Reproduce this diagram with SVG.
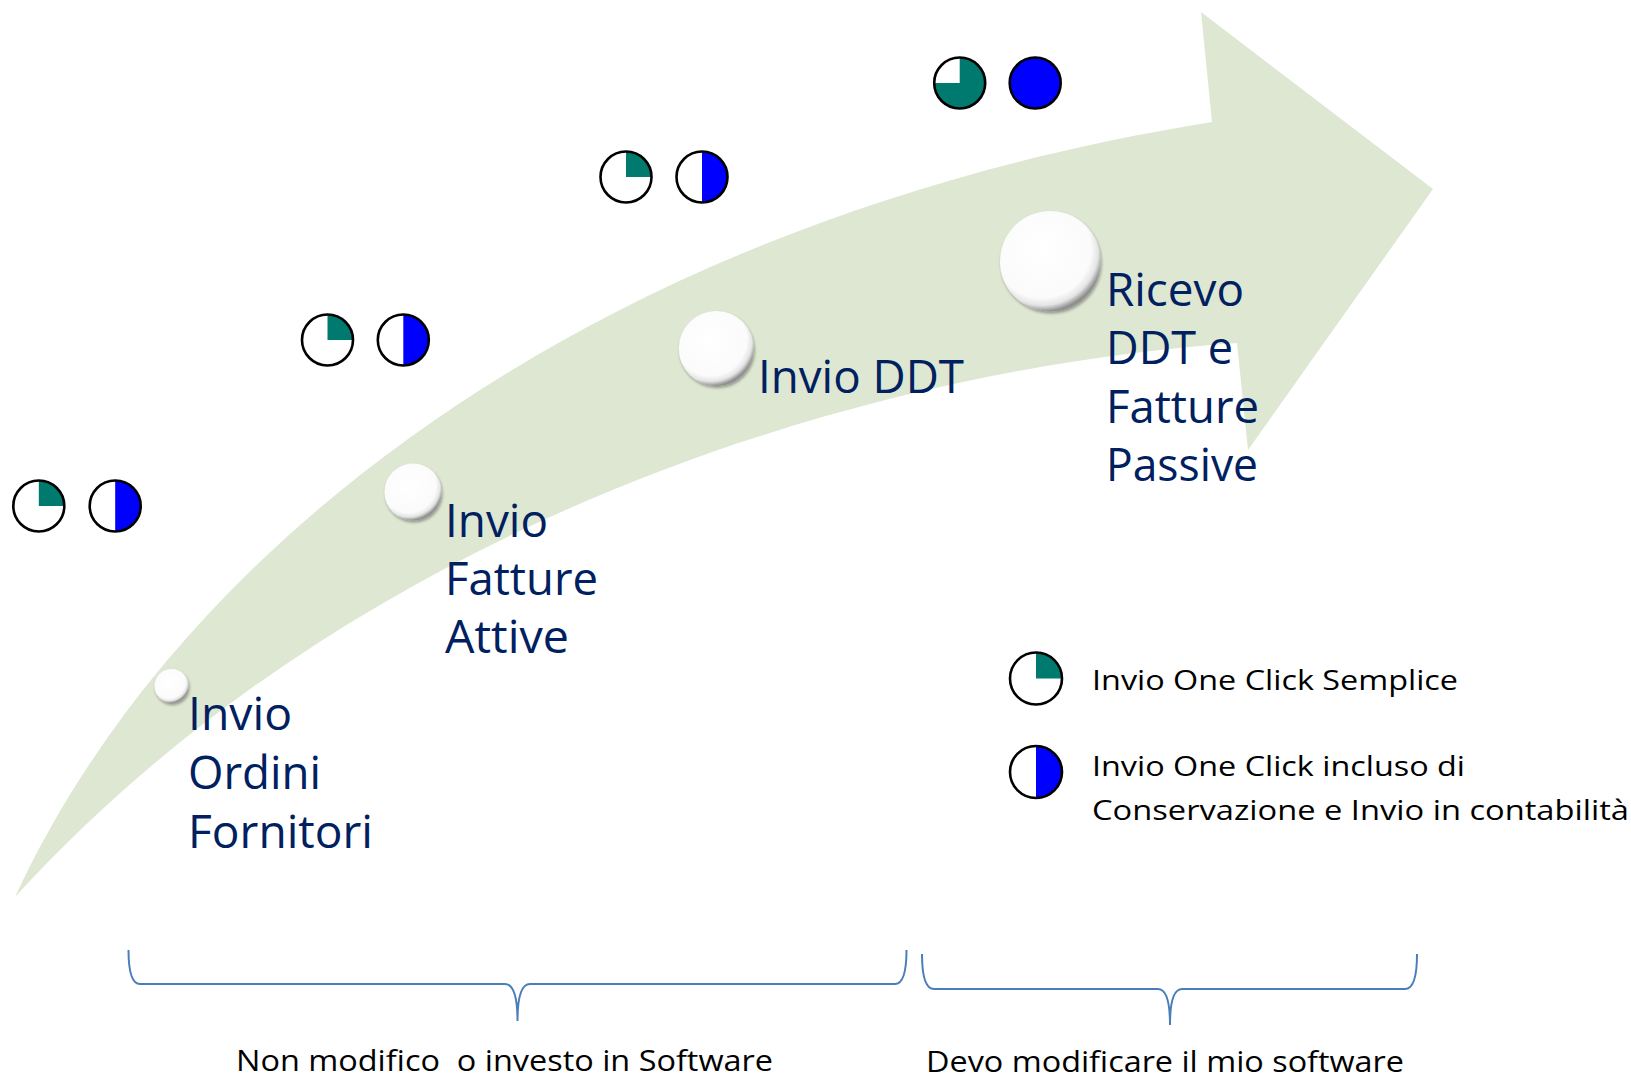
<svg xmlns="http://www.w3.org/2000/svg" width="1631" height="1081" viewBox="0 0 1631 1081">
<defs>
  <radialGradient id="sphere" cx="0.42" cy="0.38" r="0.62">
    <stop offset="0" stop-color="#ffffff"/>
    <stop offset="0.78" stop-color="#fbfbfb"/>
    <stop offset="0.9" stop-color="#e4e4e4"/>
    <stop offset="1" stop-color="#8f8f8f"/>
  </radialGradient>
  <filter id="shadow" x="-30%" y="-30%" width="160%" height="160%">
    <feGaussianBlur in="SourceAlpha" stdDeviation="1.5"/>
    <feOffset dx="1" dy="2" result="b"/>
    <feComponentTransfer><feFuncA type="linear" slope="0.35"/></feComponentTransfer>
    <feMerge><feMergeNode/><feMergeNode in="SourceGraphic"/></feMerge>
  </filter>
</defs>
<style>
  .arrow { fill: #DEE7D2; }
  .ring { fill: none; stroke: #000; stroke-width: 2.6; }
  .bg { fill: #fff; }
  .teal { fill: #007A6E; }
  .blue { fill: #0000FF; }
  .sph { fill: url(#sphere); filter: url(#shadow); }
  .lbl { font-family: "Open Sans", "Noto Sans", "Liberation Sans", sans-serif; font-size: 45px; fill: #002060; }
  .leg { font-family: "Open Sans", "Noto Sans", "Liberation Sans", sans-serif; font-size: 28px; fill: #000; }
  .bot { font-family: "Open Sans", "Noto Sans", "Liberation Sans", sans-serif; font-size: 29px; fill: #000; }
  .brace { fill: none; stroke: #4A7EBB; stroke-width: 2; }
</style>

<g id="arrow">
  <path class="arrow" d="M 15 897 C 180 540, 600 220, 1212 122 L 1201 12 L 1433 189 L 1248 450 L 1237 343 C 850 370, 350 530, 15 897 Z"/>
</g>

<g id="step-ordini">
  <circle class="sph" cx="171.5" cy="686" r="17"/>
  <text class="lbl" x="188" y="730" textLength="104" lengthAdjust="spacingAndGlyphs">Invio</text>
  <text class="lbl" x="188" y="789" textLength="133" lengthAdjust="spacingAndGlyphs">Ordini</text>
  <text class="lbl" x="188" y="848" textLength="185" lengthAdjust="spacingAndGlyphs">Fornitori</text>
</g>

<g id="step-fatture-attive">
  <circle class="sph" cx="413" cy="492" r="28.5"/>
  <text class="lbl" x="445" y="537" textLength="103" lengthAdjust="spacingAndGlyphs">Invio</text>
  <text class="lbl" x="445" y="595" textLength="153" lengthAdjust="spacingAndGlyphs">Fatture</text>
  <text class="lbl" x="445" y="653" textLength="124" lengthAdjust="spacingAndGlyphs">Attive</text>
</g>

<g id="step-ddt">
  <circle class="sph" cx="716.3" cy="348.5" r="37.5"/>
  <text class="lbl" x="758" y="393" textLength="206" lengthAdjust="spacingAndGlyphs">Invio DDT</text>
</g>

<g id="step-ricevo">
  <circle class="sph" cx="1050.3" cy="261.3" r="50.3"/>
  <text class="lbl" x="1106" y="306" textLength="138" lengthAdjust="spacingAndGlyphs">Ricevo</text>
  <text class="lbl" x="1106" y="364" textLength="127" lengthAdjust="spacingAndGlyphs">DDT e</text>
  <text class="lbl" x="1106" y="423" textLength="153" lengthAdjust="spacingAndGlyphs">Fatture</text>
  <text class="lbl" x="1106" y="481" textLength="152" lengthAdjust="spacingAndGlyphs">Passive</text>
</g>

<g id="icons-ordini">
  <circle class="bg" cx="38.8" cy="506" r="25.5"/>
  <path class="teal" d="M 38.8 506 L 38.8 480.5 A 25.5 25.5 0 0 1 64.3 506 Z"/>
  <circle class="ring" cx="38.8" cy="506" r="25.5"/>
  <circle class="bg" cx="115.2" cy="506" r="25.5"/>
  <path class="blue" d="M 115.2 480.5 A 25.5 25.5 0 0 1 115.2 531.5 Z"/>
  <circle class="ring" cx="115.2" cy="506" r="25.5"/>
</g>

<g id="icons-fatture-attive">
  <circle class="bg" cx="327.5" cy="340" r="25.5"/>
  <path class="teal" d="M 327.5 340 L 327.5 314.5 A 25.5 25.5 0 0 1 353 340 Z"/>
  <circle class="ring" cx="327.5" cy="340" r="25.5"/>
  <circle class="bg" cx="403.3" cy="340" r="25.5"/>
  <path class="blue" d="M 403.3 314.5 A 25.5 25.5 0 0 1 403.3 365.5 Z"/>
  <circle class="ring" cx="403.3" cy="340" r="25.5"/>
</g>

<g id="icons-ddt">
  <circle class="bg" cx="626" cy="177" r="25.5"/>
  <path class="teal" d="M 626 177 L 626 151.5 A 25.5 25.5 0 0 1 651.5 177 Z"/>
  <circle class="ring" cx="626" cy="177" r="25.5"/>
  <circle class="bg" cx="702" cy="177" r="25.5"/>
  <path class="blue" d="M 702 151.5 A 25.5 25.5 0 0 1 702 202.5 Z"/>
  <circle class="ring" cx="702" cy="177" r="25.5"/>
</g>

<g id="icons-ricevo">
  <circle class="bg" cx="959.7" cy="83" r="25.5"/>
  <path class="teal" d="M 959.7 83 L 959.7 57.5 A 25.5 25.5 0 1 1 934.2 83 Z"/>
  <circle class="ring" cx="959.7" cy="83" r="25.5"/>
  <circle class="blue" cx="1035.2" cy="83" r="25.5"/>
  <circle class="ring" cx="1035.2" cy="83" r="25.5"/>
</g>

<g id="legend-semplice">
  <circle class="bg" cx="1036" cy="678.5" r="26"/>
  <path class="teal" d="M 1036 678.5 L 1036 652.5 A 26 26 0 0 1 1062 678.5 Z"/>
  <circle class="ring" cx="1036" cy="678.5" r="26"/>
  <text class="leg" x="1092" y="690" textLength="366" lengthAdjust="spacingAndGlyphs">Invio One Click Semplice</text>
</g>

<g id="legend-conservazione">
  <circle class="bg" cx="1036" cy="772" r="26"/>
  <path class="blue" d="M 1036 746 A 26 26 0 0 1 1036 798 Z"/>
  <circle class="ring" cx="1036" cy="772" r="26"/>
  <text class="leg" x="1092" y="776" textLength="373" lengthAdjust="spacingAndGlyphs">Invio One Click incluso di</text>
  <text class="leg" x="1092" y="820" textLength="537" lengthAdjust="spacingAndGlyphs">Conservazione e Invio in contabilità</text>
</g>

<g id="connectors">
  <path class="brace" d="M 128.5 950 Q 128.5 984 140 984 L 505 984 Q 517.5 984 517.5 1021 Q 517.5 984 530 984 L 895 984 Q 906.5 984 906.5 950"/>
  <path class="brace" d="M 922 954 Q 922 989 934 989 L 1158 989 Q 1170 989 1170 1025 Q 1170 989 1182 989 L 1405 989 Q 1417 989 1417 954"/>
</g>

<g id="group-no-software">
  <text class="bot" x="236" y="1071" textLength="537" lengthAdjust="spacingAndGlyphs" xml:space="preserve">Non modifico  o investo in Software</text>
</g>
<g id="group-software">
  <text class="bot" x="926" y="1072" textLength="478" lengthAdjust="spacingAndGlyphs">Devo modificare il mio software</text>
</g>
</svg>
